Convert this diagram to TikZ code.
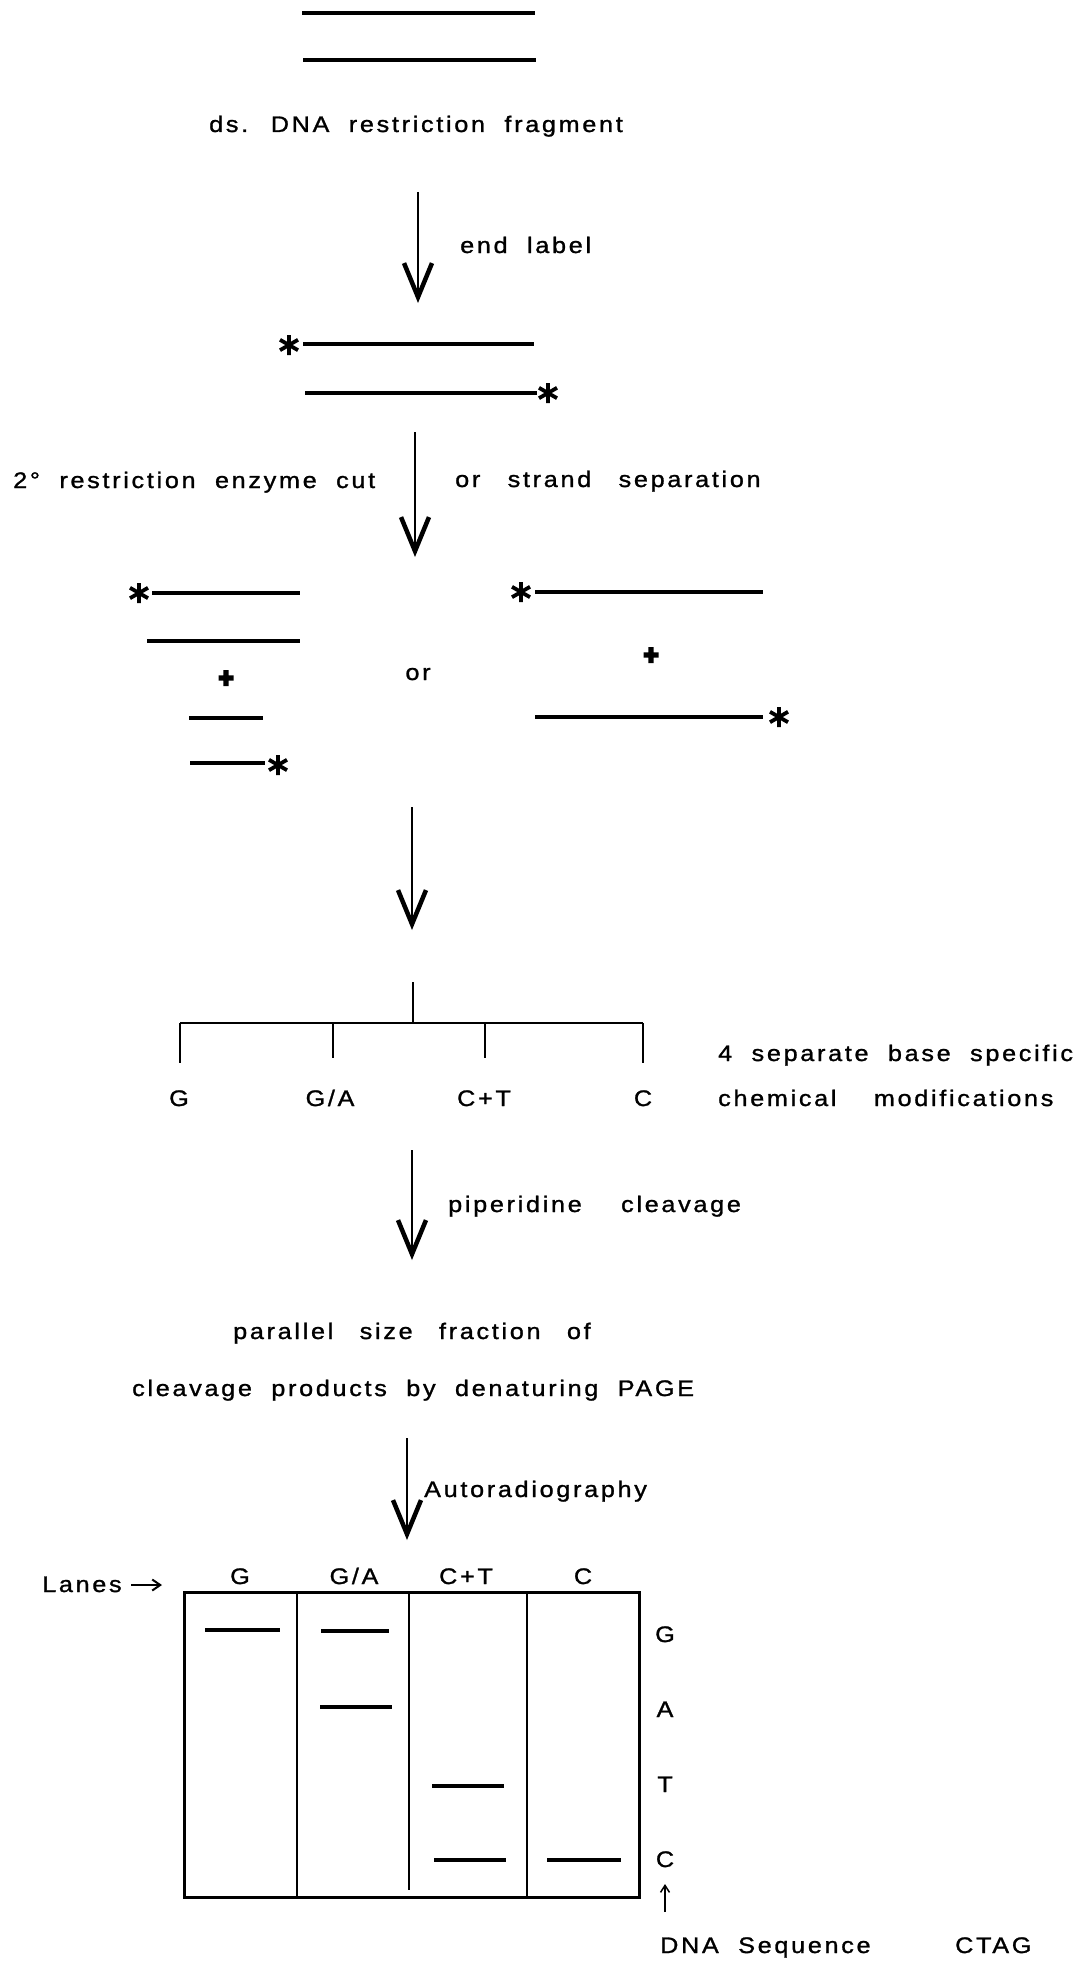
\documentclass[tikz,border=0pt]{standalone}
\usepackage{fontspec}
\setmainfont{Liberation Sans}
\newfontfamily\tw[FakeStretch=1.12,LetterSpace=12,WordSpace=2,FakeBold=1.2]{Liberation Sans}
\usetikzlibrary{arrows.meta}
\newcommand\wgap[1]{\hspace{#1pt}}
\tikzset{
  lbl/.style={font={\tw\fontsize{22.5}{26}\selectfont}, inner sep=0pt, anchor=base west},
  lblc/.style={lbl, anchor=base},
  strand/.style={line width=3.4pt},
  band/.style={line width=3.4pt},
  arr/.style={line width=2.2pt, -{Straight Barb[length=34pt,width=28pt,line width=4.5pt]}},
  thinarr/.style={line width=1.5pt, -{Straight Barb[length=7pt,width=9pt,line width=1.5pt]}},
  lanearr/.style={line width=2pt, -{Straight Barb[length=8pt,width=11pt,line width=2pt]}},
  tree/.style={line width=2.6pt},
  gel/.style={line width=3pt},
  astk/.pic={\draw[line width=3.8pt] (0,-10)--(0,10) (-9,-5.2)--(9,5.2) (-9,5.2)--(9,-5.2);},
  plussign/.pic={\fill (-7.5,-2.6) rectangle (7.5,2.6) (-2.6,-8) rectangle (2.6,8);}
}
\begin{document}
\begin{tikzpicture}[x=1pt,y=-1pt]
\useasboundingbox (0,0) rectangle (1089,1964);

% ds DNA fragment
\draw[strand] (302,13) -- (535,13);
\draw[strand] (303,60) -- (536,60);
\node[lblc] (t1) at (416,132) {ds. DNA restriction fragment};

% arrow 1
\coordinate (a1s) at (418,192);
\coordinate (a1e) at (418,303);
\draw[arr] (a1s) -- (a1e);
\node[lbl] (t2) at (460,253) {end label};

% end labelled fragment
\pic at (289,345) {astk};
\draw[strand] (303,344) -- (534,344);
\draw[strand] (305,393) -- (537,393);
\pic at (548,393) {astk};

% arrow 2
\coordinate (a2s) at (415,432);
\coordinate (a2e) at (415,557);
\draw[arr] (a2s) -- (a2e);
\node[lbl] (t3) at (13,488) {2° restriction enzyme cut};
\node[lbl] (t4) at (455,487) {or\wgap{8} strand\wgap{8} separation};

% left group
\pic at (139,593) {astk};
\draw[strand] (152,593) -- (300,593);
\draw[strand] (147,641) -- (300,641);
\pic at (226,678) {plussign};
\draw[strand] (189,718) -- (263,718);
\draw[strand] (190,763) -- (265,763);
\pic at (278,765) {astk};

\node[lblc] (t5) at (418,680) {or};

% right group
\pic at (521,592) {astk};
\draw[strand] (535,592) -- (763,592);
\pic at (651,655) {plussign};
\draw[strand] (535,717) -- (763,717);
\pic at (779,717) {astk};

% arrow 3
\coordinate (a3s) at (412,807);
\coordinate (a3e) at (412,930);
\draw[arr] (a3s) -- (a3e);

% tree
\coordinate (root) at (413,982);
\coordinate (hub) at (413,1023);
\coordinate (bl) at (180,1023);
\coordinate (br) at (643,1023);
\draw[tree] (root) -- (hub);
\draw[tree] (bl) -- (br);
\node[lblc] (mG) at (179,1106) {G};
\node[lblc] (mGA) at (330,1106) {G/A};
\node[lblc] (mCT) at (484,1106) {C+T};
\node[lblc] (mC) at (643,1106) {C};
\draw[tree] (bl) -- (180,1063);
\draw[tree] (333,1023) -- (333,1058);
\draw[tree] (485,1023) -- (485,1058);
\draw[tree] (br) -- (643,1063);
\node[lbl] (t6) at (718,1061) {4 separate base specific};
\node[lbl] (t7) at (718,1106) {chemical\wgap{18} modifications};

% arrow 4
\coordinate (a4s) at (412,1150);
\coordinate (a4e) at (412,1260);
\draw[arr] (a4s) -- (a4e);
\node[lbl] (t8) at (448,1212) {piperidine\wgap{20} cleavage};

\node[lbl] (t9) at (233,1339) {parallel\wgap{7} size\wgap{7} fraction\wgap{7} of};
\node[lbl] (t10) at (132,1396) {cleavage products by denaturing PAGE};

% arrow 5
\coordinate (a5s) at (407,1438);
\coordinate (a5e) at (407,1540);
\draw[arr] (a5s) -- (a5e);
\node[lbl] (t11) at (424,1497) {Autoradiography};

% gel
\node[lbl] (lanes) at (42,1592) {Lanes};
\coordinate (lanesA) at (131,1585);
\coordinate (lanesB) at (162,1585);
\draw[lanearr] (lanesA) -- (lanesB);
\node[lblc] (lG) at (240,1584) {G};
\node[lblc] (lGA) at (354,1584) {G/A};
\node[lblc] (lCT) at (466,1584) {C+T};
\node[lblc] (lC) at (583,1584) {C};
\draw[gel] (184,1592) rectangle (639,1897);
\draw[line width=2.2pt] (297,1592) -- (297,1897);
\draw[line width=2.2pt] (409,1592) -- (409,1890);
\draw[line width=2.2pt] (527,1592) -- (527,1897);
\draw[band] (205,1630) -- (280,1630);
\draw[band] (321,1631) -- (389,1631);
\draw[band] (320,1707) -- (392,1707);
\draw[band] (432,1786) -- (504,1786);
\draw[band] (434,1860) -- (506,1860);
\draw[band] (547,1860) -- (621,1860);

\node[lblc] (sG) at (665,1642) {G};
\node[lblc] (sA) at (665,1717) {A};
\node[lblc] (sT) at (665,1792) {T};
\node[lblc] (sC) at (665,1867) {C};
\coordinate (upst) at (665,1912);
\coordinate (upend) at (665,1884);
\draw[thinarr] (upst) -- (upend);

\node[lbl] (seq) at (660,1953) {DNA Sequence};
\node[lbl] (ctag) at (955,1953) {CTAG};
\end{tikzpicture}
\end{document}
